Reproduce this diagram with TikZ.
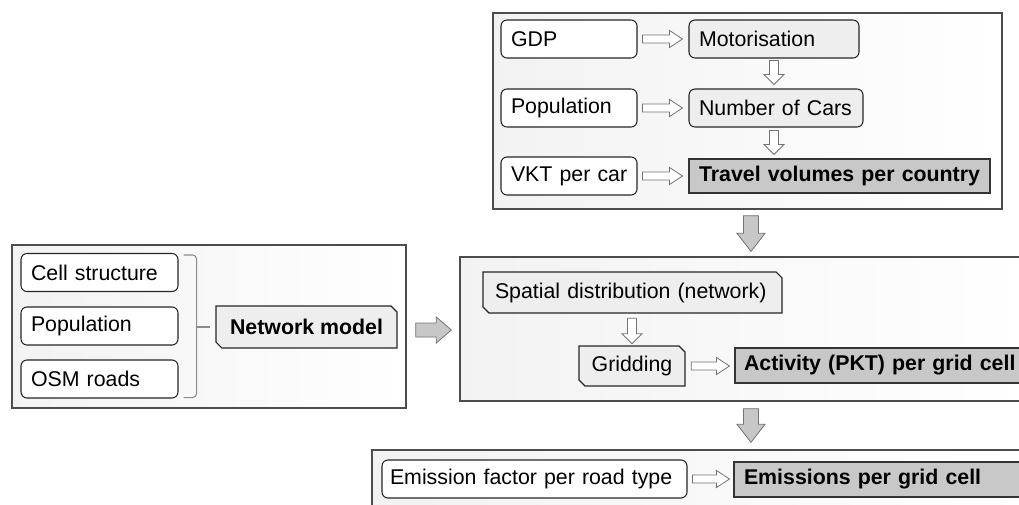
\documentclass[tikz,border=0pt]{standalone}
\usepackage{fontspec}
\setmainfont{Liberation Sans}
\usetikzlibrary{calc}
\definecolor{boldfill}{RGB}{200,200,200}
\definecolor{lightfill}{RGB}{238,238,238}
% horizontal block arrow: style, start, end, shaft half, head half, head length
\newcommand{\harrow}[6]{%
  \draw[#1] let \p1=#2, \p2=#3 in
  (\x1,\y1+#4) -- (\x2-#6,\y1+#4) -- (\x2-#6,\y1+#5) -- (\x2,\y1) --
  (\x2-#6,\y1-#5) -- (\x2-#6,\y1-#4) -- (\x1,\y1-#4) -- cycle;}
% downward block arrow
\newcommand{\varrow}[6]{%
  \draw[#1] let \p1=#2, \p2=#3 in
  (\x1-#4,\y1) -- (\x1-#4,\y2+#6) -- (\x1-#5,\y2+#6) -- (\x1,\y2) --
  (\x1+#5,\y2+#6) -- (\x1+#4,\y2+#6) -- (\x1+#4,\y1) -- cycle;}
\begin{document}
\begin{tikzpicture}[x=0.75pt,y=-0.75pt,
  every node/.style={font=\fontsize{16}{19}\selectfont, text=black},
  panel/.style={draw=black!70, line width=1pt, left color=black!5, right color=white, inner sep=0pt},
  wbox/.style={draw=black!85, line width=0.8pt, rounded corners=4.5pt, fill=white, align=left, inner xsep=7.5pt, inner ysep=0pt, minimum height=28.5pt},
  lbox/.style={wbox, fill=lightfill},
  boldbox/.style={draw=black!80, line width=0.8pt, fill=boldfill, align=left, inner xsep=7.5pt, inner ysep=0pt, font=\fontsize{16}{19}\selectfont\bfseries},
  snipshape/.style={draw=black!85, line width=0.8pt, fill=lightfill},
  hollow/.style={draw=black!55, fill=white, line width=0.6pt},
  bigarrow/.style={draw=black!55, fill=black!22, line width=0.6pt}]
\path[use as bounding box, clip] (0,0) rectangle (1019,504);

% panels
\node[panel, minimum width=381.75pt, minimum height=147pt] (toppanel) at (747.5,111) {};
\node[panel, minimum width=295.5pt, minimum height=122.25pt] (leftpanel) at (209,326.5) {};
\node[panel, minimum width=427.5pt, minimum height=108pt] (midpanel) at (745,329) {};
\node[panel, minimum width=493.5pt, minimum height=52.5pt] (botpanel) at (701,485) {};

% top panel
\node[wbox, text width=87pt] (gdp) at (569,39) {GDP};
\node[lbox, text width=112.5pt] (mot) at (774,39) {\mbox{Motorisation}};
\node[wbox, text width=87pt] (pop1) at (569,108) {\mbox{Population}};
\node[lbox, text width=115.5pt] (cars) at (776,108) {\mbox{Number of Cars}};
\node[wbox, text width=87pt] (vkt) at (569,176) {\mbox{VKT per car}};
\node[boldbox, align=center, text width=217.75pt, inner xsep=4pt, minimum height=25.5pt] (travel) at (839.5,176) {\mbox{Travel volumes per country}};

% left panel
\node[wbox, text width=102.75pt] (cell) at (99.5,272.5) {\mbox{Cell structure}};
\node[wbox, text width=102.75pt] (pop2) at (99.5,326) {\mbox{Population}};
\node[wbox, text width=102.75pt] (osm) at (99.5,379) {\mbox{OSM roads}};
\draw[snipshape] (216,306) -- (391,306) -- (397,312) -- (397,348) -- (222,348) -- (216,342) -- cycle;
\node[font=\fontsize{16}{19}\selectfont\bfseries, minimum width=135.75pt, minimum height=31.5pt] (net) at (306.5,327) {Network model};
\draw[black!45, line width=0.8pt, rounded corners=3pt]
  ($(cell.north east)+(5,2)$) -- ($(cell.north east)+(18,2)$) --
  ($(osm.south east)+(18,-1)$) -- ($(osm.south east)+(5,-1)$);
\draw[black!45, line width=0.8pt] ($(net.west)+(-20,0)$) -- ($(net.west)+(-6,0)$);

% middle panel
\draw[snipshape] (483,272) -- (776,272) -- (782,278) -- (782,313) -- (489,313) -- (483,307) -- cycle;
\node[align=left, text width=206.25pt, inner xsep=9pt, inner ysep=0pt, minimum height=30.75pt] (spat) at (632.5,292.5) {\mbox{Spatial distribution (network)}};
\draw[snipshape] (579,346) -- (679,346) -- (685,352) -- (685,386) -- (585,386) -- (579,380) -- cycle;
\node[minimum width=79.5pt, minimum height=30pt] (grid) at (632,366) {Gridding};
\node[boldbox, text width=211.5pt, inner xsep=6.75pt, minimum height=26.25pt] (act) at (885,365.5) {\mbox{Activity (PKT) per grid cell}};

% bottom panel
\node[wbox, text width=216.75pt, inner xsep=6pt] (emf) at (534.5,479) {\mbox{Emission factor per road type}};
\node[boldbox, text width=210.75pt, minimum height=26.25pt] (emis) at (884.5,479.5) {\mbox{Emissions per grid cell}};

% hollow arrows
\harrow{hollow}{($(gdp.east)+(5,0)$)}{($(mot.west)+(-6,0)$)}{3pt}{6.4pt}{9.75pt}
\harrow{hollow}{($(pop1.east)+(5,0)$)}{($(cars.west)+(-6,0)$)}{3pt}{6.4pt}{9.75pt}
\harrow{hollow}{($(vkt.east)+(5,0)$)}{($(travel.west)+(-6,0)$)}{3pt}{6.4pt}{9.75pt}
\varrow{hollow}{($(mot.south)+(0,2)$)}{($(mot.south |- cars.north)+(0,-4)$)}{3.4pt}{7.5pt}{7.5pt}
\varrow{hollow}{($(mot.south |- cars.south)+(0,3)$)}{($(mot.south |- travel.north)+(0,-4)$)}{3.4pt}{7.5pt}{7.5pt}
\varrow{hollow}{($(spat.south -| grid.north)+(0,5)$)}{($(grid.north)+(0,-2)$)}{3.4pt}{7.5pt}{7.5pt}
\harrow{hollow}{($(grid.east)+(6,0)$)}{($(act.west)+(-5,0)$)}{3pt}{6.4pt}{9.75pt}
\harrow{hollow}{($(emf.east)+(5,0)$)}{($(emis.west)+(-4,0)$)}{3pt}{6.4pt}{9.75pt}

% big grey arrows
\coordinate (ga) at (751,0);
\varrow{bigarrow}{($(toppanel.south -| ga)+(0,6)$)}{($(midpanel.north -| ga)+(0,-5)$)}{5.6pt}{10.5pt}{13.5pt}
\harrow{bigarrow}{($(leftpanel.east)+(9,3.5)$)}{($(midpanel.west)+(-8,0)$)}{5.25pt}{9.75pt}{11.25pt}
\varrow{bigarrow}{($(midpanel.south -| ga)+(0,7)$)}{($(botpanel.north -| ga)+(0,-7)$)}{5.6pt}{10.5pt}{13.5pt}
\end{tikzpicture}
\end{document}
